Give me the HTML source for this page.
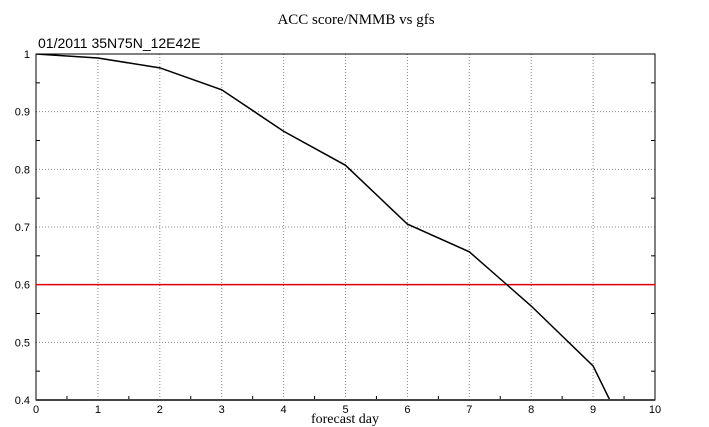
<!DOCTYPE html>
<html><head><meta charset="utf-8"><style>html,body{margin:0;background:#fff;overflow:hidden;width:709px;height:427px}svg{display:block}</style></head>
<body>
<svg id="c" width="709" height="427" xmlns="http://www.w3.org/2000/svg">
<text x="356" y="24" text-anchor="middle" font-family="Liberation Serif, serif" font-size="15">ACC score/NMMB vs gfs</text>
<text x="38" y="48" font-family="Liberation Sans, sans-serif" font-size="14">01/2011 35N75N_12E42E</text>
<text x="345" y="423" text-anchor="middle" font-family="Liberation Serif, serif" font-size="14">forecast day</text>
<g id="grid"></g><g id="marks"></g>
</svg>
<script>
const days=[0,1,2,3,4,5,6,7,8,9,10];
const acc=[1.0,0.993,0.976,0.938,0.866,0.807,0.705,0.657,0.563,0.459,0.24];
const xTicks=[0,1,2,3,4,5,6,7,8,9,10];
const yTicks=[0.4,0.5,0.6,0.7,0.8,0.9,1];
const yTickLabels=["0.4","0.5","0.6","0.7","0.8","0.9","1"];
const refLine=0.6;
const L=36,R=655,T=54,B=400;
const sx=v=>L+(v-0)/10*(R-L), sy=v=>B-(v-0.4)/0.6*(B-T);
const ns="http://www.w3.org/2000/svg";
const g=document.getElementById('grid'), m=document.getElementById('marks');
function el(t,a,p){const e=document.createElementNS(ns,t);for(const k in a)e.setAttribute(k,a[k]);p.appendChild(e);return e;}
xTicks.forEach(v=>{
 const l=el('line',{x1:sx(v),x2:sx(v),y1:T,y2:B,stroke:'#888','stroke-dasharray':'1,2','stroke-width':1},g);
 
 const t=el('text',{x:sx(v),y:B+13,'text-anchor':'middle','font-family':'Liberation Sans, sans-serif','font-size':11},g);
 t.textContent=v;
 
 if(v<10){const mt=el('line',{x1:sx(v+0.5),x2:sx(v+0.5),y1:B,y2:B-4,stroke:'#000'},g);
 }
});
yTicks.forEach((v,i)=>{
 const l=el('line',{x1:L,x2:R,y1:sy(v),y2:sy(v),stroke:'#888','stroke-dasharray':'1,2','stroke-width':1},g);
 
 const t=el('text',{x:L-6,y:sy(v)+4,'text-anchor':'end','font-family':'Liberation Sans, sans-serif','font-size':11},g);
 t.textContent=yTickLabels[i];
 
 if(v<1){[L,R].forEach((x,j)=>{const mt=el('line',{x1:x,x2:x+(j?-4:4),y1:sy(v+0.05),y2:sy(v+0.05),stroke:'#000'},g);
 });}
});
const fr=el('rect',{x:L,y:T,width:R-L,height:B-T,fill:'none',stroke:'#000','stroke-width':1},g);

const cp=el('clipPath',{id:'clip'},m);el('rect',{x:L,y:T,width:R-L,height:B-T},cp);
const rl=el('line',{x1:L,x2:R,y1:sy(refLine),y2:sy(refLine),stroke:'#e00000','stroke-width':1.5},m);

const p=el('polyline',{points:days.map((d,i)=>sx(d)+','+sy(acc[i])).join(' '),fill:'none',stroke:'#000','stroke-width':1.5,'clip-path':'url(#clip)'},m);

const bl=el('line',{x1:L,x2:R,y1:B,y2:B,stroke:'#444','stroke-width':2},m);

</script>
</body></html>
